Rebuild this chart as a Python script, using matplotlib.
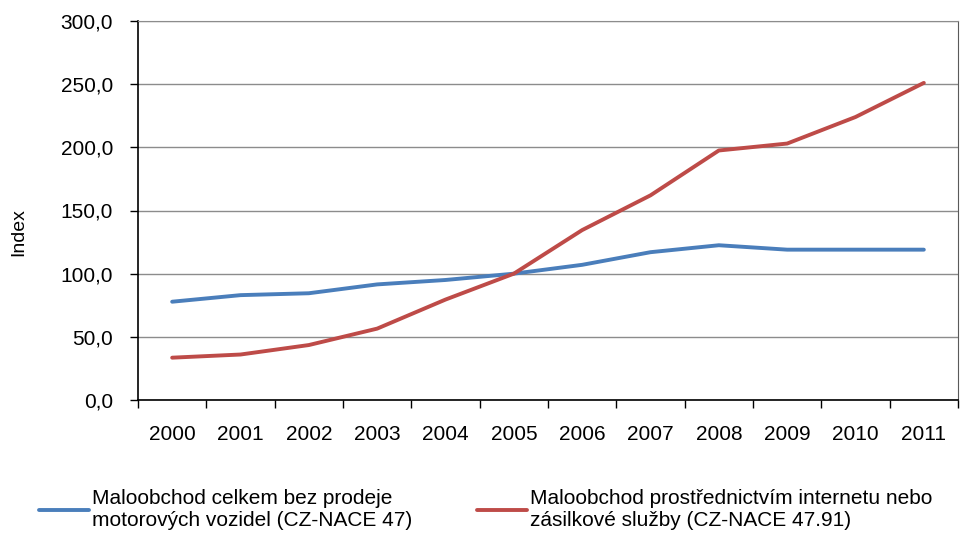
import numpy as np
import matplotlib
matplotlib.use("Agg")
import matplotlib.pyplot as plt
from matplotlib.ticker import FixedLocator, FuncFormatter

plt.rcParams['font.family'] = ['Liberation Sans', 'DejaVu Sans']

# data
years = ['2000', '2001', '2002', '2003', '2004', '2005',
         '2006', '2007', '2008', '2009', '2010', '2011']
maloobchod_celkem = [77.8, 83.0, 84.5, 91.5, 95.0, 100.0,
                     107.0, 117.0, 122.5, 119.0, 119.0, 119.0]
maloobchod_internet = [33.5, 36.0, 43.5, 56.5, 79.5, 100.0,
                       134.5, 162.0, 197.5, 203.0, 224.0, 251.0]
series_labels = ['Maloobchod celkem bez prodeje\nmotorových vozidel (CZ-NACE 47)',
                 'Maloobchod prostřednictvím internetu nebo\nzásilkové služby (CZ-NACE 47.91)']
y_ticks = [0, 50, 100, 150, 200, 250, 300]

blue = '#4A7EBB'
red = '#BE4B48'
fs = 15

fig = plt.figure(figsize=(9.7, 5.35), dpi=100)
ax = fig.add_axes([138 / 970, 135 / 535, 820 / 970, 379 / 535])

x = np.arange(len(years))
l1, = ax.plot(x, maloobchod_celkem, color=blue, lw=2.8, solid_capstyle='round',
              label=series_labels[0], zorder=3)
l2, = ax.plot(x, maloobchod_internet, color=red, lw=2.8, solid_capstyle='round',
              label=series_labels[1], zorder=3)

ax.set_xlim(-0.5, len(years) - 0.5)
ax.set_ylim(0, 300)

# category axis: ticks between categories, labels at centres
ax.xaxis.set_major_locator(FixedLocator(np.arange(-0.5, len(years), 1.0)))
ax.xaxis.set_major_formatter(FuncFormatter(lambda v, p: ''))
ax.set_xticks(x, years, minor=True)
ax.tick_params(axis='x', which='major', length=6, width=1, direction='out', color='black')
ax.tick_params(axis='x', which='minor', length=0, pad=18, labelsize=fs)

ax.set_yticks(y_ticks)
ax.set_yticklabels([f'{v:.1f}'.replace('.', ',') for v in y_ticks])
ax.tick_params(axis='y', length=6, width=1, direction='out', pad=12, labelsize=fs)

ax.grid(axis='y', color='#8c8c8c', lw=1)
ax.set_axisbelow(True)
ax.spines['left'].set_color('black')
ax.spines['bottom'].set_color('black')
ax.spines['left'].set_linewidth(1.2)
ax.spines['bottom'].set_linewidth(1.2)
ax.spines['top'].set_color('#8c8c8c')
ax.spines['right'].set_color('#5a5a5a')

fig.text(19 / 970, 1 - 232 / 535, 'Index', rotation=90, ha='center', va='center', fontsize=fs - 1)

leg_kw = dict(loc='center left', frameon=False, fontsize=fs, handlelength=2.4,
              handletextpad=0.15, borderaxespad=0, borderpad=0)
fig.legend(handles=[l1], bbox_to_anchor=(39 / 970, 1 - 510 / 535), **leg_kw)
fig.legend(handles=[l2], bbox_to_anchor=(477 / 970, 1 - 510 / 535), **leg_kw)

fig.savefig('out.png', dpi=100)
